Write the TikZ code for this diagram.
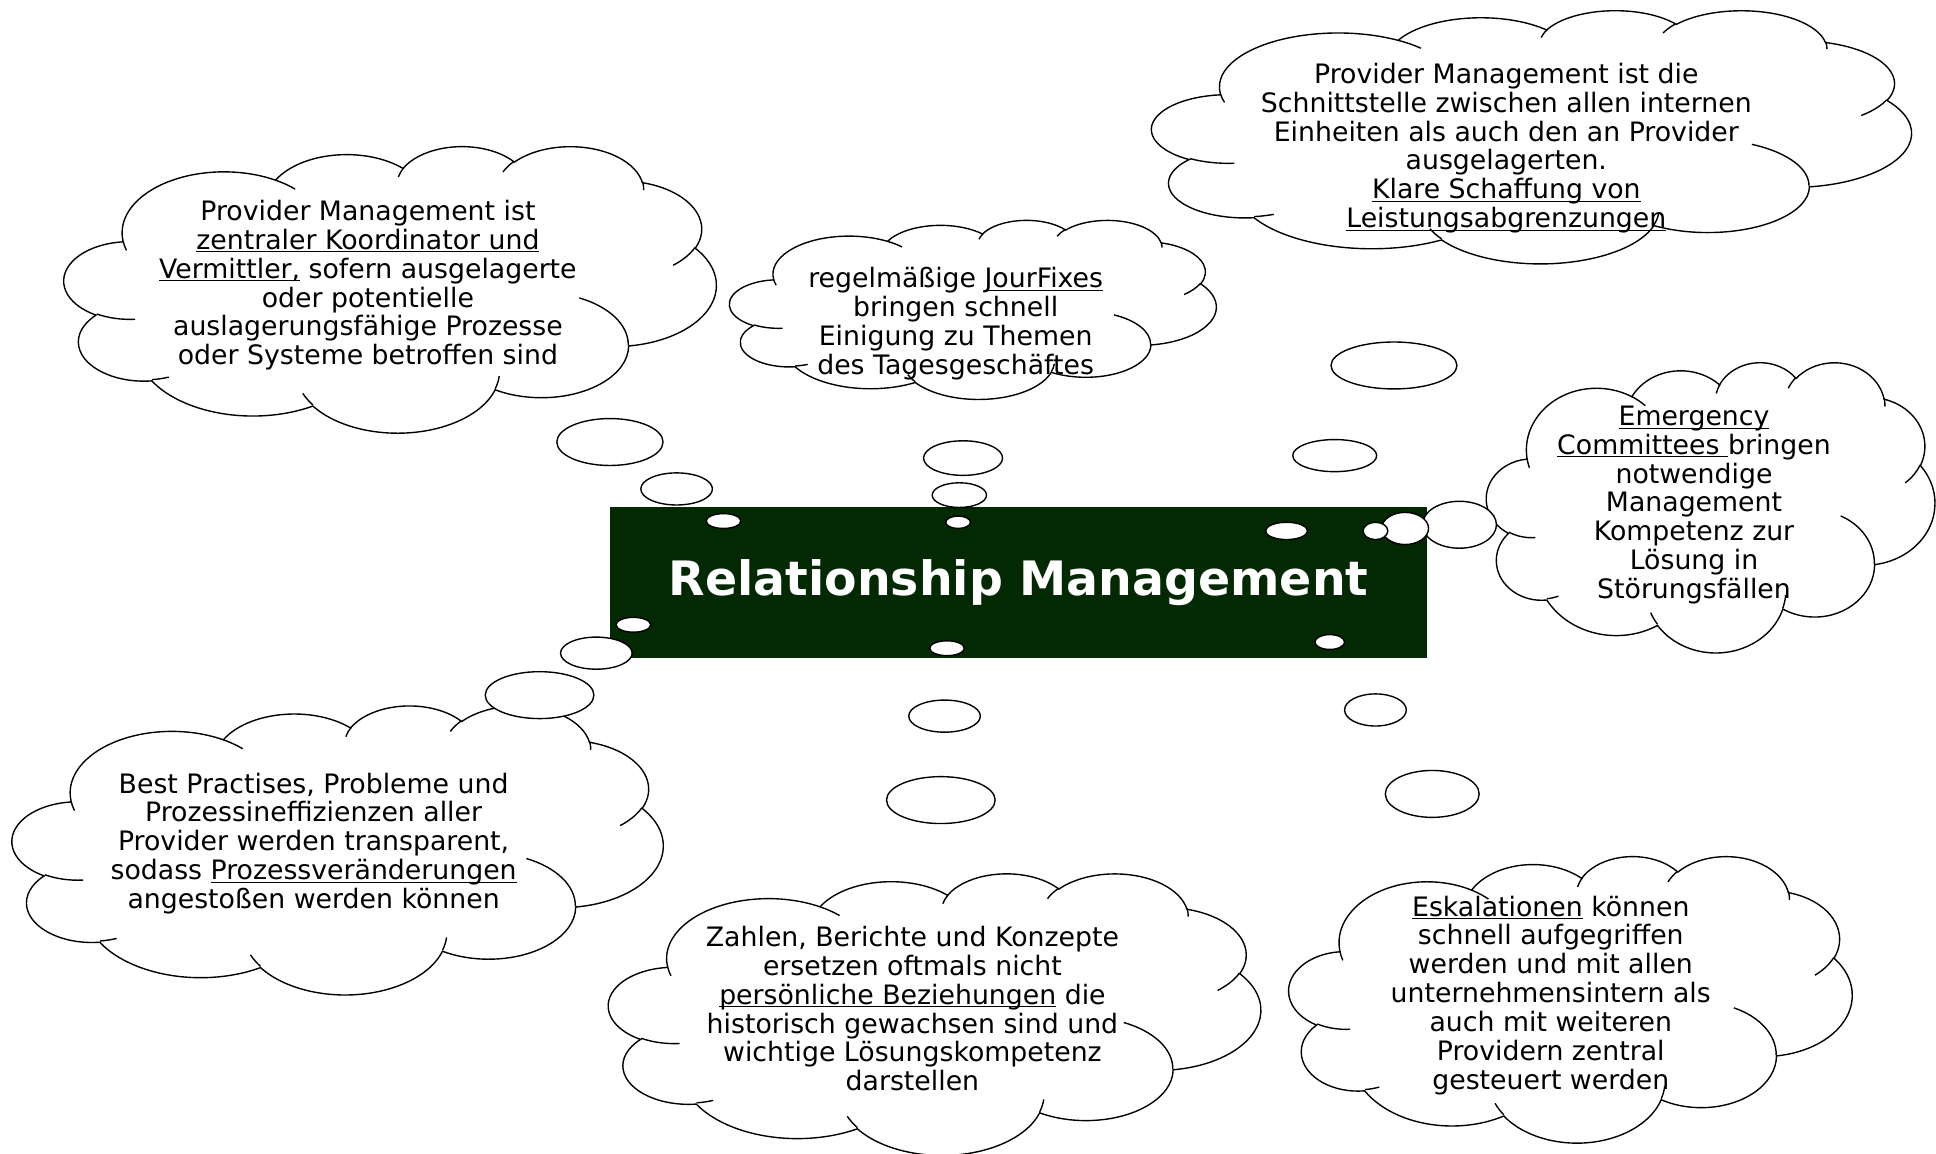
\documentclass[tikz,border=0pt]{standalone}
\usepackage{fontspec}
\setmainfont{DejaVu Sans}
\usetikzlibrary{shapes}

\definecolor{relgreen}{RGB}{3,41,3}

% one puff of the cloud: x radius, y radius, start angle, sweep
\newcommand\puff[4]{%
  \pgfextra{%
    \pgfmathparse{atan2(#1*sin(#3),#2*cos(#3))}\global\let\puffts\pgfmathresult
    \pgfmathparse{atan2(#1*sin(#3+#4),#2*cos(#3+#4))}\global\let\puffte\pgfmathresult
    \pgfmathparse{mod(\puffte-\puffts+720,360)}\global\let\puffdt\pgfmathresult}
  arc[start angle=\puffts, delta angle=\puffdt, x radius=#1, y radius=#2]}

\newcommand\cloudoutline{%
  (9.028,33.264)
  \puff{15.632}{21.273}{-190.4875}{123.7805}
  \puff{12.345}{16.822}{-144.1024}{89.9452}
  \puff{10.104}{13.762}{-145.8079}{99.7230}
  \puff{11.243}{15.266}{-130.9861}{117.2417}
  \puff{12.345}{16.836}{-78.7089}{109.0269}
  \puff{15.683}{21.343}{-46.2673}{130.2690}
  \puff{13.391}{18.211}{0.6250}{114.0333}
  \puff{15.630}{21.331}{22.4516}{115.1726}
  \puff{17.870}{24.405}{66.2426}{75.7110}
  \puff{10.093}{13.699}{-274.9421}{146.7356}
  \puff{10.058}{13.762}{-246.8285}{152.5189}
  -- cycle}

\newcommand\cloudcreases{%
  (10.863,60.595) \puff{10.058}{13.762}{86.7420}{26.4295}
  (16.037,80.785) \puff{10.093}{13.699}{73.6105}{11.4475}
  (38.144,90.486) \puff{15.630}{21.331}{137.6242}{14.0811}
  (66.729,80.442) \puff{15.630}{21.331}{6.4533}{15.9984}
  (79.002,53.134) \puff{13.391}{18.211}{-70.2924}{70.9174}
  (96.755,35.542) \puff{12.345}{16.836}{30.3180}{27.7515}
  (88.713,12.560) \puff{11.243}{15.266}{-13.7443}{14.8589}
  (67.310,9.148) \puff{11.243}{15.266}{-149.1815}{18.1954}
  (51.252,10.926) \puff{10.104}{13.762}{-163.4943}{17.6864}
  (32.407,12.019) \puff{15.632}{21.273}{-66.7070}{12.3194}
  (9.553,36.549) \puff{15.632}{21.273}{157.6544}{11.8582}}

% cloud at top left corner x,y with width, height
\newcommand\thoughtcloud[4]{%
  \begin{scope}[shift={(#1,#2)}, xscale=#3/100, yscale=#4/100]
    \filldraw[cloudline, fill=white] \cloudoutline;
    \draw[cloudline] \cloudcreases;
  \end{scope}}

\newcommand\unterstr[1]{\underline{\smash{#1}}\vphantom{#1}}

\begin{document}
\begin{tikzpicture}[x=0.025cm, y=-0.025cm,
  cloudline/.style={draw=black, line width=0.8pt},
  bubble/.style={draw=black, fill=white, line width=0.8pt},
  cloudtext/.style={align=center, inner sep=0pt, font=\fontsize{15.4}{16.6}\selectfont},
  title/.style={fill=relgreen, text=white, inner sep=0pt, minimum width=16.55cm,
    minimum height=3.05cm, font=\bfseries\fontsize{27.3}{32}\selectfont}]

\useasboundingbox (0,0) rectangle (1568,934);

% clouds
\thoughtcloud{52}{118}{528}{232}
\thoughtcloud{591}{178}{394}{145}
\thoughtcloud{933}{8}{615}{205}
\thoughtcloud{1204}{293}{363}{235}
\thoughtcloud{10}{571}{527}{234}
\thoughtcloud{493}{707}{528}{228}
\thoughtcloud{1044}{693}{456}{232}

\node[cloudtext] at (298,231) (koordinator) {Provider Management ist\\
  \unterstr{zentraler Koordinator und}\\
  \unterstr{Vermittler,} sofern ausgelagerte\\
  oder potentielle\\
  auslagerungsfähige Prozesse\\
  oder Systeme betroffen sind};
\node[cloudtext] at (774,262) (jourfixes) {regelmäßige \unterstr{JourFixes}\\
  bringen schnell\\
  Einigung zu Themen\\
  des Tagesgeschäftes};
\node[cloudtext] at (1220,120) (schnittstelle) {Provider Management ist die\\
  Schnittstelle zwischen allen internen\\
  Einheiten als auch den an Provider\\
  ausgelagerten.\\
  \unterstr{Klare Schaffung von}\\
  \unterstr{Leistungsabgrenzungen}};
\node[cloudtext] at (1372,409) (emergency) {\unterstr{Emergency}\\
  \unterstr{Committees\ }bringen\\
  notwendige\\
  Management\\
  Kompetenz zur\\
  Lösung in\\
  Störungsfällen};
\node[cloudtext] at (254,683) (practises) {Best Practises, Probleme und\\
  Prozessineffizienzen aller\\
  Provider werden transparent,\\
  sodass \unterstr{Prozessveränderungen}\\
  angestoßen werden können};
\node[cloudtext] at (739,817) (beziehungen) {Zahlen, Berichte und Konzepte\\
  ersetzen oftmals nicht\\
  \unterstr{persönliche Beziehungen} die\\
  historisch gewachsen sind und\\
  wichtige Lösungskompetenz\\
  darstellen};
\node[cloudtext] at (1256,806) (eskalation) {\unterstr{Eskalationen} können\\
  schnell aufgegriffen\\
  werden und mit allen\\
  unternehmensintern als\\
  auch mit weiteren\\
  Providern zentral\\
  gesteuert werden};

\node[title] at (825,472) (relman) {\raisebox{-3pt}{Relationship Management}};

% thought bubbles
\foreach \bx/\by/\rx/\ry in {494/358/43/19, 548/396/29/13, 586/422/14/6,
    780/371/32/14, 777/401/22/10, 776/423/10/5,
    1129/296/51/19, 1081/369/34/13, 1042/430/17/7,
    1182/425/30/19, 1138/428/19/13, 1114/430/10/7,
    437/563/44/19, 483/529/29/13, 513/506/14/6,
    762/648/44/19, 765/580/29/13, 767/525/14/6,
    1160/643/38/19, 1114/575/25/13, 1077/520/12/6}
  \draw[bubble] (\bx,\by) ellipse [x radius=\rx, y radius=\ry];

\end{tikzpicture}
\end{document}
